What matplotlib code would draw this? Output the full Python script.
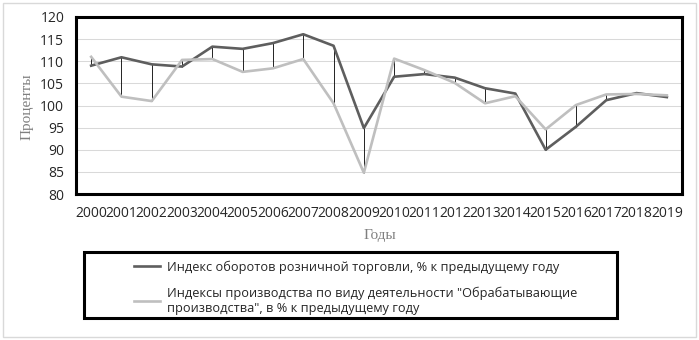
import numpy as np
import matplotlib.pyplot as plt
from matplotlib.patches import Rectangle

years = [str(y) for y in range(2000, 2020)]
retail = [109.0, 110.9, 109.3, 108.8, 113.3, 112.8, 114.1, 116.1, 113.5, 94.9,
          106.5, 107.1, 106.3, 103.9, 102.7, 90.0, 95.2, 101.2, 102.8, 101.9]
manuf = [111.0, 102.0, 101.0, 110.3, 110.5, 107.6, 108.4, 110.5, 100.5, 84.8,
         110.6, 108.0, 105.1, 100.5, 102.1, 94.6, 100.1, 102.5, 102.6, 102.3]
yticks = list(range(80, 121, 5))

lab1 = "Индекс оборотов розничной торговли, % к предыдущему году"
lab2 = "Индексы производства по виду деятельности \"Обрабатывающие\nпроизводства\", в % к предыдущему году"

W, H = 699, 340
fig = plt.figure(figsize=(W/100, H/100), dpi=100)
fig.patch.set_facecolor('white')
# outer chart frame
fig.add_artist(Rectangle((3/W, 3/H), 693/W, 334/H, transform=fig.transFigure,
                         fill=False, edgecolor='#d9d9d9', lw=1.0))

ax = fig.add_axes([76/W, 1-194/H, 606/W, 177/H])
x = np.arange(len(years))

# high-low lines
ax.vlines(x, np.minimum(retail, manuf), np.maximum(retail, manuf),
          colors='black', lw=0.6, zorder=2)
ax.plot(x, retail, color='#5e5e5e', lw=1.9, zorder=3, label=lab1)
ax.plot(x, manuf, color='#bfbfbf', lw=1.9, zorder=3, label=lab2)

ax.set_xlim(-0.5, len(years)-0.5)
ax.set_ylim(80, 120)
ax.set_yticks(yticks)
ax.set_xticks(x)
ax.set_xticklabels(years)
ax.grid(axis='y', color='#d9d9d9', lw=0.75)
ax.set_axisbelow(True)
ax.tick_params(length=0, labelsize=10.0, colors='#262626', pad=8.5)
for lbl in ax.get_xticklabels() + ax.get_yticklabels():
    lbl.set_family('Open Sans')
for s in ax.spines.values():
    s.set_linewidth(2.2)
    s.set_color('black')

fig.text(27/W, 1-107/H, 'Проценты', rotation=90, ha='center', va='center',
         family='Liberation Serif', fontsize=11, color='#7f7f7f')
fig.text(380/W, 1-235/H, 'Годы', ha='center', va='center',
         family='Liberation Serif', fontsize=11, color='#7f7f7f')

# legend box
fig.add_artist(Rectangle((84/W, 1-318/H), 533/W, 66/H, transform=fig.transFigure,
                         fill=False, edgecolor='black', lw=2.2, zorder=5))
leg = ax.legend(loc='upper left', bbox_to_anchor=(124/W, 1-250/H),
                bbox_transform=fig.transFigure, frameon=False,
                prop={'family': 'Open Sans', 'size': 9.2},
                handlelength=2.0, handletextpad=0.6, labelspacing=1.0,
                borderpad=0.3)
for t in leg.get_texts():
    t.set_color('#262626')

fig.savefig('out.png', dpi=100)
